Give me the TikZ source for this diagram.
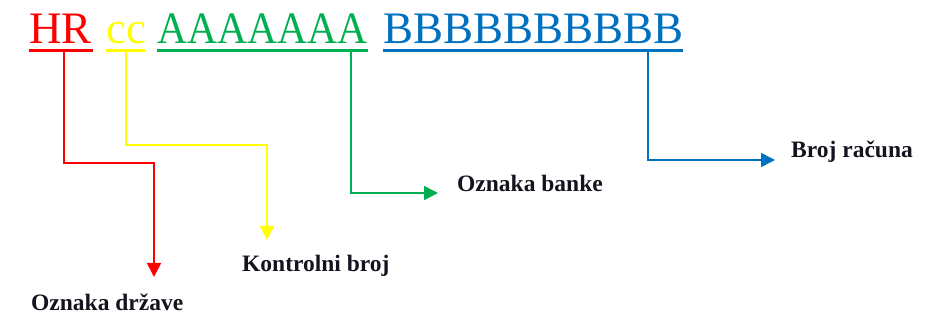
\documentclass[tikz,border=0pt]{standalone}
\usepackage{fontspec}
\setmainfont{Liberation Serif}
\usetikzlibrary{arrows.meta}
\definecolor{cred}{HTML}{FF0000}
\definecolor{cyel}{HTML}{FFFF00}
\definecolor{cgrn}{HTML}{00B050}
\definecolor{cblu}{HTML}{0070C0}
\definecolor{ctxt}{HTML}{14141E}
\tikzset{
  word/.style={anchor=base west, inner sep=0pt, font=\fontsize{45}{45}\selectfont},
  uline/.style={line width=3pt},
  conn/.style={line width=1.6pt, -{Triangle[length=14pt,width=14pt]}},
  lbl/.style={anchor=base west, inner sep=0pt, text=ctxt, font=\bfseries\fontsize{23.5}{23.5}\selectfont}
}
\begin{document}
\begin{tikzpicture}[x=1pt,y=-1pt]
\useasboundingbox[fill=white] (0,0) rectangle (949,336);
% title words
\node[word,text=cred] (hr) at (29,44) {HR};
\node[word,text=cyel] (cc) at (106,44) {cc};
\node[word,text=cgrn] (aa) at (157,44) {\scalebox{0.923}[1]{AAAAAAA}};
\node[word,text=cblu] (bb) at (383,44) {BBBBBBBBBB};
% underlines
\draw[uline,cred] (29,51) -- (93,51);
\draw[uline,cyel] (106,51) -- (145,51);
\draw[uline,cgrn] (157,51) -- (368,51);
\draw[uline,cblu] (383,51) -- (683,51);
% anchor coordinates
\coordinate (hrU) at (64,52);
\coordinate (ccU) at (126,52);
\coordinate (aaU) at (351,52);
\coordinate (bbU) at (648,52);
\coordinate (tipD) at (154,277);
\coordinate (tipK) at (267,240);
\coordinate (tipO) at (438,193);
\coordinate (tipB) at (775,160);
% labels
\node[lbl] (drz) at (31,310) {Oznaka države};
\node[lbl] (kon) at (242,272) {Kontrolni broj};
\node[lbl] (ban) at (457,192) {Oznaka banke};
\node[lbl] (rac) at (791,158) {Broj računa};
% connectors
\draw[conn,cred] (hrU) -- (64,163) -- (154,163) -- (tipD);
\draw[conn,cyel] (ccU) -- (126,145) -- (267,145) -- (tipK);
\draw[conn,cgrn] (aaU) |- (tipO);
\draw[conn,cblu] (bbU) |- (tipB);
\end{tikzpicture}
\end{document}
